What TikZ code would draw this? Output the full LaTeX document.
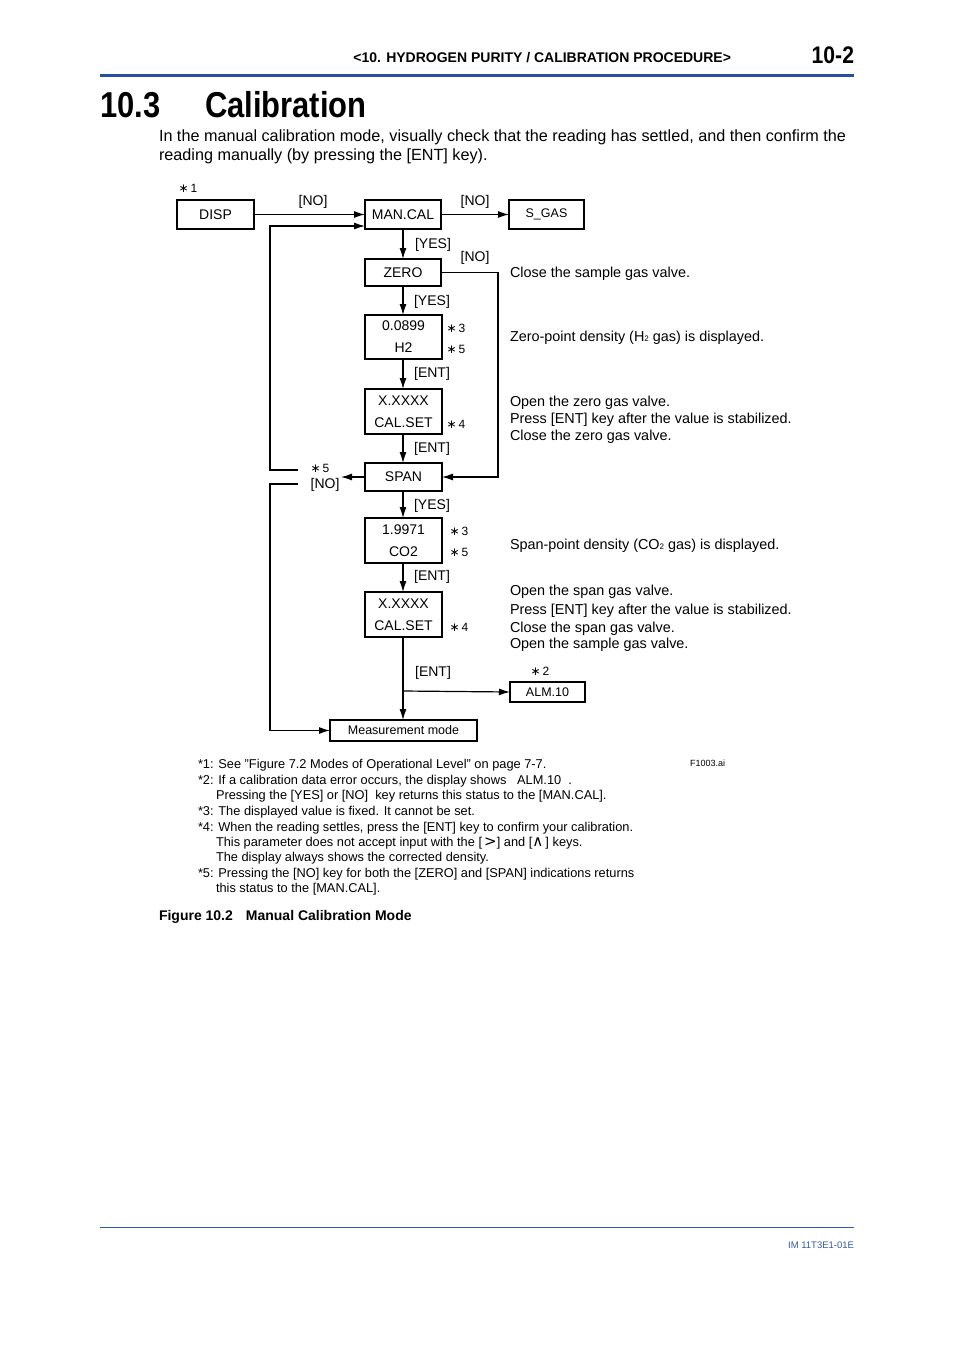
\documentclass[tikz,border=0pt]{standalone}
\usepackage{graphicx}
\usepackage{fontspec}
\setmainfont{Liberation Sans}
\newfontfamily\dejavu{DejaVu Sans}
\usetikzlibrary{arrows.meta}
\definecolor{hdrblue}{RGB}{40,80,160}
\definecolor{ftblue}{RGB}{50,90,170}
\newcommand\stnote[1]{{\dejavu\fontsize{12}{14}\selectfont ∗}\,#1}
\begin{document}
\begin{tikzpicture}[x=1pt,y=-1pt,
  every node/.style={inner sep=0pt,outer sep=0pt},
  fbox/.style={draw,line width=1.7pt,inner sep=0pt,align=center,font=\fontsize{14}{22}\selectfont},
  tbox/.style={draw,line width=1.2pt,inner sep=0pt,align=center,font=\fontsize{12.5}{14}\selectfont},
  lbl/.style={font=\fontsize{14}{16}\selectfont},
  snote/.style={font=\fontsize{12}{14}\selectfont},
  rtext/.style={font=\fontsize{14.4}{16}\selectfont,anchor=base west},
  fnote/.style={font=\fontsize{12.8}{14}\selectfont,anchor=base west},
  conn/.style={line width=1.2pt},
  fb/.style={line width=1.8pt},
  arr/.style={-{Latex[length=11pt,width=7pt]}}
]
\useasboundingbox (0,0) rectangle (954,1350);
\fill[white] (0,0) rectangle (954,1350);

% header
\node[anchor=base east,font=\bfseries\fontsize{14}{16}\selectfont] (hdr) at (731,62) {<10. HYDROGEN PURITY / CALIBRATION PROCEDURE>};
\node[anchor=base east,font=\bfseries\fontsize{24}{26}\selectfont] (pg) at (854,63) {\scalebox{0.88}[1]{10-2}};
\fill[hdrblue] (100,73.5) rectangle (854,77);
\node[anchor=base west,font=\bfseries\fontsize{36}{40}\selectfont] (sec) at (100,117) {\scalebox{0.86}[1]{10.3}};
\node[anchor=base west,font=\bfseries\fontsize{36}{40}\selectfont] (tit) at (205,117) {\scalebox{0.86}[1]{Calibration}};
\node[anchor=base west,font=\fontsize{16.2}{19}\selectfont] (b1) at (159,141) {In the manual calibration mode, visually check that the reading has settled, and then confirm the};
\node[anchor=base west,font=\fontsize{16.2}{19}\selectfont] (b2) at (159,160) {reading manually (by pressing the [ENT] key).};

% boxes
\node[fbox,minimum width=77pt,minimum height=29pt] (disp) at (215.5,214.5) {DISP};
\node[fbox,minimum width=76pt,minimum height=29pt] (man) at (403,214.5) {MAN.CAL};
\node[fbox,minimum width=75pt,minimum height=29pt,font=\fontsize{12.5}{14}\selectfont] (sgas) at (546.5,214.5) {S\_GAS};
\node[fbox,minimum width=76pt,minimum height=27pt] (zero) at (403,272.5) {ZERO};
\node[fbox,minimum width=77pt,minimum height=44pt] (v1) at (403.5,337) {0.0899\\H2};
\node[fbox,minimum width=77pt,minimum height=45pt] (c1) at (403.5,411.5) {X.XXXX\\CAL.SET};
\node[fbox,minimum width=77pt,minimum height=28pt] (span) at (403.5,477) {SPAN};
\node[fbox,minimum width=77pt,minimum height=45pt] (v2) at (403.5,540.5) {1.9971\\CO2};
\node[fbox,minimum width=77pt,minimum height=45pt] (c2) at (403.5,614.5) {X.XXXX\\CAL.SET};
\node[tbox,minimum width=75pt,minimum height=20pt] (alm) at (547.5,692) {ALM.10};
\node[tbox,minimum width=147pt,minimum height=21pt] (meas) at (403.5,730.5) {Measurement mode};

% coordinates
\coordinate (nol) at (341,477);
\coordinate (fbt) at (298,470);
\coordinate (fbb) at (298,484);
\coordinate (br) at (403,691);

% connectors
\draw[conn,arr] (disp.east) -- (man.west);
\draw[conn,arr] (man.east) -- (sgas.west);
\draw[conn,arr] (man.south) -- (zero.north);
\draw[conn,arr] (zero.south -| man.south) -- (v1.north -| man.south);
\draw[conn,arr] (v1.south -| man.south) -- (c1.north -| man.south);
\draw[conn,arr] (c1.south -| man.south) -- (span.north -| man.south);
\draw[conn,arr] (span.south -| man.south) -- (v2.north -| man.south);
\draw[conn,arr] (v2.south -| man.south) -- (c2.north -| man.south);
\draw[conn,arr] (c2.south -| man.south) -- (meas.north -| man.south);
\draw[conn,arr] (br) -- (alm.west);
\draw[conn,arr] (zero.east) -- (498,272.5) -- (498,477) -- (span.east);
\draw[conn,arr] (span.west) -- (nol);
\draw[fb] (fbt) -- (270,470) -- (270,226);
\draw[conn,arr] (269.1,226) -- (man.west |- 0,226);
\draw[fb] (fbb) -- (270,484) -- (270,730.5);
\draw[conn,arr] (269.1,730.5) -- (meas.west);

% connector labels
\node[lbl] (l1) at (313,202) {[NO]};
\node[lbl] (l2) at (475,202) {[NO]};
\node[lbl] (l3) at (433,245) {[YES]};
\node[lbl] (l4) at (475,258) {[NO]};
\node[lbl] (l5) at (432,302) {[YES]};
\node[lbl] (l6) at (432,374) {[ENT]};
\node[lbl] (l7) at (432,449) {[ENT]};
\node[lbl] (l8) at (432,506) {[YES]};
\node[lbl] (l9) at (432,577) {[ENT]};
\node[lbl] (l10) at (433,673) {[ENT]};
\node[lbl] (l11) at (325,485) {[NO]};
\node[snote] (s5a) at (320,468) {\stnote{5}};

% star notes
\node[snote] (s1) at (188,188) {\stnote{1}};
\node[snote] (s3a) at (456,328) {\stnote{3}};
\node[snote] (s5b) at (456,349) {\stnote{5}};
\node[snote] (s4a) at (456,424) {\stnote{4}};
\node[snote] (s3b) at (459,531) {\stnote{3}};
\node[snote] (s5c) at (459,552) {\stnote{5}};
\node[snote] (s4b) at (459,627) {\stnote{4}};
\node[snote] (s2) at (540,671) {\stnote{2}};

% right-side descriptions
\node[rtext] (r1) at (510,277) {Close the sample gas valve.};
\node[rtext] (r2) at (510,341) {Zero-point density (H{\fontsize{8}{9}\selectfont 2} gas) is displayed.};
\node[rtext] (r3) at (510,406) {Open the zero gas valve.};
\node[rtext] (r4) at (510,423) {Press [ENT] key after the value is stabilized.};
\node[rtext] (r5) at (510,440) {Close the zero gas valve.};
\node[rtext] (r6) at (510,549) {Span-point density (CO{\fontsize{8}{9}\selectfont 2} gas) is displayed.};
\node[rtext] (r7) at (510,595) {Open the span gas valve.};
\node[rtext] (r8) at (510,614) {Press [ENT] key after the value is stabilized.};
\node[rtext] (r9) at (510,632) {Close the span gas valve.};
\node[rtext] (r10) at (510,648) {Open the sample gas valve.};

% footnotes
\node[fnote] (f1) at (198,768) {*1: See "Figure 7.2 Modes of Operational Level" on page 7-7.};
\node[fnote] (f2) at (198,784) {*2: If a calibration data error occurs, the display shows \ \ ALM.10 \ .};
\node[fnote] (f3) at (216,799) {Pressing the [YES] or [NO] \ key returns this status to the [MAN.CAL].};
\node[fnote] (f4) at (198,815) {*3: The displayed value is fixed. It cannot be set.};
\node[fnote] (f5) at (198,831) {*4: When the reading settles, press the [ENT] key to confirm your calibration.};
\node[fnote] (f6) at (216,846) {This parameter does not accept input with the [\,{\dejavu\fontsize{15}{15}\selectfont >}] and [{\dejavu\fontsize{15}{15}\selectfont ∧}\,] keys.};
\node[fnote] (f7) at (216,861) {The display always shows the corrected density.};
\node[fnote] (f8) at (198,877) {*5: Pressing the [NO] key for both the [ZERO] and [SPAN] indications returns};
\node[fnote] (f9) at (216,892) {this status to the [MAN.CAL].};
\node[anchor=base west,font=\fontsize{9}{10}\selectfont] (fid) at (690,766) {F1003.ai};
\node[anchor=base west,font=\bfseries\fontsize{14}{16}\selectfont] (cap) at (159,920) {Figure 10.2\hspace{13pt}Manual Calibration Mode};

% footer
\draw[ftblue,line width=0.9pt] (100,1227) -- (854,1227);
\node[anchor=base east,font=\fontsize{9.5}{10}\selectfont,text=ftblue] (doc) at (854,1248) {IM 11T3E1-01E};
\end{tikzpicture}
\end{document}
